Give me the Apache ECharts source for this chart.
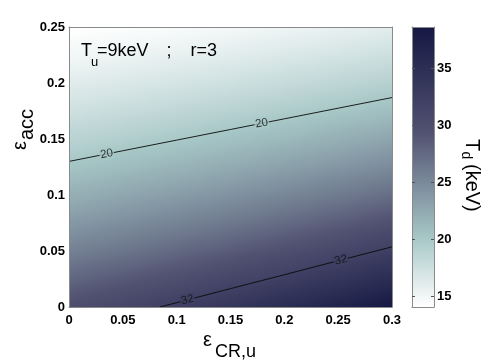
<!DOCTYPE html>
<html><head><meta charset="utf-8">
<script src="https://cdn.jsdelivr.net/npm/echarts/dist/echarts.min.js"></script>
<style>html,body{margin:0;padding:0;background:#fff}#c{width:491px;height:360px}</style>
</head><body><div id="c"></div>
<script>
// grid nodes of the field (eps_CR,u on x, eps_acc on y)
const xNodes = [0, 0.025, 0.05, 0.075, 0.1, 0.125, 0.15, 0.175, 0.2, 0.225, 0.25, 0.275, 0.3];
const yNodes = [0, 0.025, 0.05, 0.075, 0.1, 0.125, 0.15, 0.175, 0.2, 0.225, 0.25];
// T_d (keV), one row per yNodes entry
const tdRows = [
  [29.98, 30.55, 31.14, 31.76, 32.41, 33.08, 33.78, 34.51, 35.27, 36.06, 36.89, 37.76, 38.67],
  [27.73, 28.24, 28.77, 29.32, 29.89, 30.48, 31.10, 31.74, 32.41, 33.11, 33.84, 34.61, 35.41],
  [25.66, 26.10, 26.57, 27.06, 27.56, 28.09, 28.63, 29.20, 29.79, 30.41, 31.05, 31.72, 32.42],
  [23.73, 24.13, 24.54, 24.97, 25.42, 25.88, 26.36, 26.86, 27.38, 27.92, 28.48, 29.07, 29.68],
  [21.96, 22.31, 22.67, 23.05, 23.44, 23.85, 24.27, 24.71, 25.16, 25.64, 26.13, 26.64, 27.18],
  [20.31, 20.62, 20.94, 21.27, 21.62, 21.97, 22.34, 22.73, 23.13, 23.54, 23.97, 24.42, 24.89],
  [18.79, 19.06, 19.34, 19.63, 19.94, 20.25, 20.57, 20.91, 21.25, 21.61, 21.99, 22.38, 22.79],
  [17.39, 17.62, 17.87, 18.12, 18.38, 18.66, 18.94, 19.23, 19.53, 19.85, 20.17, 20.51, 20.86],
  [16.08, 16.29, 16.51, 16.73, 16.95, 17.19, 17.44, 17.69, 17.95, 18.22, 18.51, 18.80, 19.10],
  [14.88, 15.06, 15.25, 15.44, 15.64, 15.84, 16.05, 16.27, 16.50, 16.73, 16.98, 17.23, 17.49],
  [14.03, 14.12, 14.20, 14.30, 14.42, 14.60, 14.78, 14.97, 15.16, 15.37, 15.57, 15.79, 16.02]
];
// contour lines
const contour20 = [[0, 0.130], [0.05, 0.1395], [0.1, 0.149], [0.15, 0.1585], [0.2, 0.168], [0.25, 0.1775], [0.3, 0.187]];
const contour32 = [[0.0845, 0], [0.1, 0.0039], [0.15, 0.0164], [0.2, 0.0288], [0.25, 0.0413], [0.3, 0.0537]];
const labels20 = [[0.035, 0.1367], [0.179, 0.164]];
const labels32 = [[0.11, 0.0064], [0.2526, 0.0419]];
// colorbar
const cbTicks = [15, 20, 25, 30, 35];
const cbRange = [14.03, 38.64];
const xTickStep = 0.05, yTickStep = 0.05;

// reversed "bone" colormap, v = 0 at min (white) .. 1 at max (dark navy)
const cmapStops = [[0, [255, 255, 255]], [0.25, [166, 198, 198]], [0.625, [81, 81, 113]], [1, [21, 24, 67]]];
function cmapV(v) {
  v = Math.max(0, Math.min(1, v));
  for (let i = 1; i < cmapStops.length; i++) {
    const a = cmapStops[i - 1], b = cmapStops[i];
    if (v <= b[0]) {
      const f = (v - a[0]) / (b[0] - a[0]);
      const c = a[1].map((q, j) => Math.round(q + f * (b[1][j] - q)));
      return 'rgb(' + c.join(',') + ')';
    }
  }
  return 'rgb(' + cmapStops[cmapStops.length - 1][1].join(',') + ')';
}
function cmap(t) { return cmapV((t - cbRange[0]) / (cbRange[1] - cbRange[0])); }

const cells = [];
for (let k = 0; k + 1 < yNodes.length; k++) {
  for (let i = 0; i + 1 < xNodes.length; i++) {
    cells.push([xNodes[i], yNodes[k], xNodes[i + 1], yNodes[k + 1],
      tdRows[k][i], tdRows[k][i + 1], tdRows[k + 1][i], tdRows[k + 1][i + 1]]);
  }
}

function renderCell(params, api) {
  const x0 = api.value(0), y0 = api.value(1), x1 = api.value(2), y1 = api.value(3);
  const bl = api.value(4), br = api.value(5), tl = api.value(6), tr = api.value(7);
  const pTL = api.coord([x0, y1]), pBR = api.coord([x1, y0]);
  const w = pBR[0] - pTL[0], h = pBR[1] - pTL[1];
  const cx = pTL[0] + w / 2, cy = pTL[1] + h / 2, tc = (bl + br + tl + tr) / 4;
  const gx = ((tr + br) - (tl + bl)) / (2 * w), gy = ((bl + br) - (tl + tr)) / (2 * h);
  const g = Math.hypot(gx, gy) || 1e-9;
  const nx = gx / g, ny = gy / g;
  const smax = (w / 2) * Math.abs(nx) + (h / 2) * Math.abs(ny);
  const t0 = tc - g * smax, t1 = tc + g * smax;
  const stops = [];
  for (let s = 0; s <= 4; s++) stops.push({ offset: s / 4, color: cmap(t0 + (t1 - t0) * s / 4) });
  return {
    type: 'rect',
    shape: { x: pTL[0] - 0.5, y: pTL[1] - 0.5, width: w + 1, height: h + 1 },
    style: { fill: new echarts.graphic.LinearGradient(cx - smax * nx, cy - smax * ny, cx + smax * nx, cy + smax * ny, stops, true) }
  };
}

function renderBar(params, api) {
  const pTL = api.coord([api.value(0), api.value(3)]), pBR = api.coord([api.value(2), api.value(1)]);
  const stops = cmapStops.map(s => ({ offset: 1 - s[0], color: 'rgb(' + s[1].join(',') + ')' })).reverse();
  return {
    type: 'rect',
    shape: { x: pTL[0], y: pTL[1], width: pBR[0] - pTL[0], height: pBR[1] - pTL[1] },
    style: { fill: new echarts.graphic.LinearGradient(0, pTL[1], 0, pBR[1], stops, true) }
  };
}

const FONT = 'Liberation Sans';
const border = { show: true, onZero: false, lineStyle: { color: '#8a8a8a', width: 1 } };
const tickLbl = { color: '#000', fontSize: 13, fontWeight: 'bold', fontFamily: FONT };
function txt(x, y, s, size) {
  return { type: 'text', x: x, y: y, z: 100, style: { text: s, fontSize: size, fontFamily: FONT, fill: '#000', verticalAlign: 'middle' } };
}

const chart = echarts.init(document.getElementById('c'), null, { renderer: 'canvas' });
chart.setOption({
  animation: false,
  backgroundColor: '#fff',
  grid: [
    { left: 69, top: 27, width: 323, height: 280, outerBoundsMode: 'none' },
    { left: 412, top: 27, width: 22, height: 280, outerBoundsMode: 'none' }
  ],
  xAxis: [
    { gridIndex: 0, type: 'value', min: 0, max: 0.3, interval: xTickStep, z: 5, axisLine: border, axisTick: { show: false }, splitLine: { show: false }, axisLabel: Object.assign({ margin: 7 }, tickLbl) },
    { gridIndex: 0, type: 'value', position: 'top', min: 0, max: 0.3, z: 5, axisLine: border, axisTick: { show: false }, splitLine: { show: false }, axisLabel: { show: false } },
    { gridIndex: 1, type: 'value', min: 0, max: 1, z: 5, axisLine: border, axisTick: { show: false }, splitLine: { show: false }, axisLabel: { show: false } },
    { gridIndex: 1, type: 'value', position: 'top', min: 0, max: 1, z: 5, axisLine: border, axisTick: { show: false }, splitLine: { show: false }, axisLabel: { show: false } }
  ],
  yAxis: [
    { gridIndex: 0, type: 'value', position: 'left', min: 0, max: 0.25, interval: yTickStep, z: 5, axisLine: border, axisTick: { show: false }, splitLine: { show: false }, axisLabel: Object.assign({ margin: 4 }, tickLbl) },
    { gridIndex: 0, type: 'value', position: 'right', min: 0, max: 0.25, z: 5, axisLine: border, axisTick: { show: false }, splitLine: { show: false }, axisLabel: { show: false } },
    { gridIndex: 1, type: 'value', position: 'right', min: cbRange[0], max: cbRange[1], z: 5, axisLine: border,
      axisTick: { show: true, inside: true, length: 3, customValues: cbTicks, lineStyle: { color: '#555' } }, splitLine: { show: false },
      axisLabel: Object.assign({ margin: 3, customValues: cbTicks }, tickLbl) },
    { gridIndex: 1, type: 'value', position: 'left', min: cbRange[0], max: cbRange[1], z: 5, axisLine: border,
      axisTick: { show: true, inside: true, length: 3, customValues: cbTicks, lineStyle: { color: '#555' } }, splitLine: { show: false },
      axisLabel: { show: false } }
  ],
  series: [
    { type: 'custom', xAxisIndex: 0, yAxisIndex: 0, clip: true, silent: true, renderItem: renderCell, encode: { x: [0, 2], y: [1, 3] }, data: cells, z: 1 },
    { type: 'line', xAxisIndex: 0, yAxisIndex: 0, data: contour20, showSymbol: false, silent: true, lineStyle: { color: '#0a0a0a', width: 0.9 }, z: 3 },
    { type: 'line', xAxisIndex: 0, yAxisIndex: 0, data: contour32, showSymbol: false, silent: true, lineStyle: { color: '#0a0a0a', width: 0.9 }, z: 3 },
    { type: 'scatter', xAxisIndex: 0, yAxisIndex: 0, data: labels20, symbolSize: 1, itemStyle: { color: 'rgba(0,0,0,0)' }, silent: true, z: 4,
      label: { show: true, position: 'inside', formatter: '20', rotate: 10.5, fontSize: 11.5, fontFamily: FONT, color: '#111', backgroundColor: cmap(20), padding: [0, 1] } },
    { type: 'scatter', xAxisIndex: 0, yAxisIndex: 0, data: labels32, symbolSize: 1, itemStyle: { color: 'rgba(0,0,0,0)' }, silent: true, z: 4,
      label: { show: true, position: 'inside', formatter: '32', rotate: 14, fontSize: 11.5, fontFamily: FONT, color: '#111', backgroundColor: cmap(32), padding: [0, 1] } },
    { type: 'custom', xAxisIndex: 2, yAxisIndex: 2, silent: true, renderItem: renderBar, encode: { x: [0, 2], y: [1, 3] }, data: [[0, cbRange[0], 1, cbRange[1]]], z: 1 }
  ],
  graphic: [
    txt(81, 51.5, 'T', 18),
    txt(91, 62, 'u', 13),
    txt(97, 51.5, '=9keV', 18),
    txt(166.5, 51.5, ';', 18),
    txt(190.5, 51.5, 'r=3', 18),
    // x axis label
    txt(203, 340, 'ε', 20),
    txt(215, 352, 'CR,u', 18),
    // y axis label
    { type: 'group', x: 20, y: 150, z: 100, rotation: Math.PI / 2, children: [
      txt(0, 0, 'ε', 20),
      txt(10, 7, 'acc', 20)
    ] },
    // colorbar label
    { type: 'group', x: 471.5, y: 139, z: 100, rotation: -Math.PI / 2, children: [
      txt(0, 0, 'T', 20),
      txt(12.5, 6, 'd', 14),
      txt(25, 0, '(keV)', 20)
    ] }
  ]
});
</script>
</body></html>
